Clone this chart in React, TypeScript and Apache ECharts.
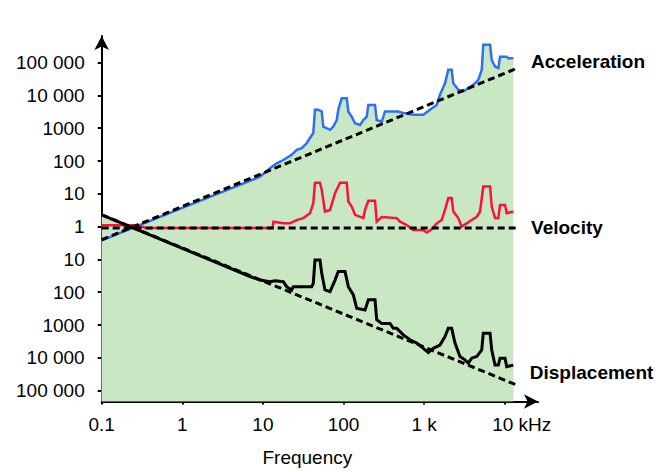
import React, { useEffect, useRef } from 'react';
import * as echarts from 'echarts';

// x = log10(frequency in Hz), y = log10(level) (below 1 the axis shows the reciprocal)
const xTickValues = [-1, 0, 1, 2, 3, 4];
const xTickLabels = ['0.1', '1', '10', '100', '1 k', '10 kHz'];
const yTickValues = [5, 4, 3, 2, 1, 0, -1, -2, -3, -4, -5];
const yTickLabels = ['100 000', '10 000', '1000', '100', '10', '1', '10', '100', '1000', '10 000', '100 000'];
const curveNames = ['Acceleration', 'Velocity', 'Displacement'];

const accelerationRef: number[][] = [[-1, -0.4], [4.165, 4.84]];
const velocityRef: number[][] = [[-1, -0.04], [4.165, -0.04]];
const displacementRef: number[][] = [[-1, 0.36], [4.15, -4.83]];

const acceleration: number[][] = [
  [-1, -0.42], [0, 0.57], [0.964, 1.52], [1.088, 1.78], [1.171, 1.93], [1.253, 2.03],
  [1.357, 2.19], [1.419, 2.34], [1.481, 2.39], [1.543, 2.54], [1.584, 2.7], [1.625, 2.85],
  [1.646, 3.56], [1.687, 3.56], [1.73, 3.51], [1.749, 3.05], [1.833, 2.95], [1.873, 3.05],
  [1.916, 3.25], [1.935, 3.56], [1.978, 3.91], [2.04, 3.91], [2.06, 3.51], [2.102, 3.35],
  [2.143, 3.15], [2.205, 3.1], [2.246, 3.25], [2.288, 3.35], [2.308, 3.71], [2.391, 3.71],
  [2.412, 3.25], [2.474, 3.2], [2.515, 3.51], [2.68, 3.51], [2.742, 3.46], [2.866, 3.41],
  [2.99, 3.41], [3.073, 3.56], [3.156, 3.71], [3.197, 4.02], [3.259, 4.37], [3.3, 4.78],
  [3.342, 4.78], [3.362, 4.37], [3.424, 4.17], [3.486, 4.12], [3.548, 4.22], [3.61, 4.32],
  [3.672, 4.47], [3.715, 4.78], [3.734, 5.54], [3.818, 5.54], [3.839, 5.08], [3.88, 4.88],
  [3.921, 4.83], [3.942, 5.18], [4.025, 5.18], [4.045, 5.13], [4.107, 5.13],
];

const velocity: number[][] = [
  [-1, 0.04], [-0.55, 0.04], [-0.45, -0.04], [1.12, -0.04], [1.13, 0.15], [1.253, 0.1], [1.336, 0.1],
  [1.419, 0.2], [1.501, 0.26], [1.584, 0.41], [1.625, 0.71], [1.646, 1.34], [1.708, 1.34],
  [1.73, 1.12], [1.77, 0.46], [1.833, 0.51], [1.895, 1.02], [1.957, 1.34], [2.04, 1.34],
  [2.06, 0.76], [2.102, 0.61], [2.143, 0.36], [2.246, 0.26], [2.267, 0.51], [2.308, 0.79],
  [2.391, 0.79], [2.412, 0.15], [2.474, 0.29], [2.66, 0.26], [2.701, 0.15], [2.784, 0.05],
  [2.866, -0.1], [2.99, -0.1], [3.032, -0.18], [3.094, -0.08], [3.156, 0.1], [3.218, 0.2],
  [3.259, 0.51], [3.3, 0.87], [3.342, 0.87], [3.362, 0.46], [3.424, 0.26], [3.466, 0.0],
  [3.528, 0.1], [3.59, 0.2], [3.653, 0.3], [3.694, 0.46], [3.734, 1.22], [3.818, 1.22],
  [3.839, 0.61], [3.88, 0.26], [3.921, 0.26], [3.942, 0.66], [4.004, 0.66], [4.025, 0.41],
  [4.107, 0.46],
];

const displacement: number[][] = [
  [-1, 0.36], [0.84, -1.52], [0.964, -1.63], [1.088, -1.68], [1.15, -1.65], [1.253, -1.68],
  [1.295, -1.83], [1.357, -1.93], [1.377, -1.83], [1.605, -1.83], [1.625, -1.73], [1.646, -1.02],
  [1.708, -1.02], [1.73, -1.42], [1.77, -1.93], [1.833, -1.98], [1.895, -1.63], [1.935, -1.37],
  [2.019, -1.37], [2.06, -1.83], [2.122, -2.08], [2.164, -2.49], [2.267, -2.54], [2.308, -2.23],
  [2.391, -2.23], [2.412, -2.84], [2.474, -2.95], [2.577, -2.95], [2.618, -3.1], [2.66, -3.1],
  [2.742, -3.3], [2.825, -3.45], [2.908, -3.55], [2.99, -3.71], [3.052, -3.84], [3.114, -3.71],
  [3.197, -3.61], [3.259, -3.35], [3.3, -3.1], [3.342, -3.1], [3.383, -3.55], [3.445, -3.96],
  [3.507, -4.06], [3.548, -4.16], [3.59, -4.01], [3.653, -3.96], [3.715, -3.76], [3.734, -3.25],
  [3.818, -3.25], [3.839, -3.76], [3.88, -4.22], [3.921, -4.22], [3.942, -4.01], [4.004, -4.01],
  [4.025, -4.27], [4.107, -4.22],
];

const FONT = '"Liberation Sans", Arial, sans-serif';
const GREEN = '#c9e7c2';
const BLUE = '#2f6ff2';
const RED = '#ff1038';

export default function App() {
  const ref = useRef<HTMLDivElement>(null);
  useEffect(() => {
    if (!ref.current) return;
    const chart = echarts.init(ref.current, undefined, { renderer: 'svg' });
    const areaSeries = (data: number[][]) => ({
      type: 'line',
      data,
      symbol: 'none',
      showSymbol: false,
      silent: true,
      z: 1,
      lineStyle: { width: 0 },
      areaStyle: { color: GREEN, opacity: 1, origin: 'start' },
    });
    const solid = (data: number[][], color: string, width: number) => ({
      type: 'line',
      data,
      symbol: 'none',
      showSymbol: false,
      silent: true,
      z: 2,
      lineStyle: { color, width, join: 'miter' },
    });
    const dashed = (data: number[][], name: string, offsetY: number) => ({
      type: 'line',
      data,
      symbol: 'none',
      showSymbol: false,
      silent: true,
      z: 3,
      lineStyle: { color: '#000', width: 3, type: [7, 4] },
      endLabel: {
        show: true,
        formatter: name,
        distance: 13,
        offset: [0, offsetY],
        fontSize: 19,
        fontWeight: 'bold',
        fontFamily: FONT,
        color: '#000',
      },
    });
    chart.setOption({
      animation: false,
      backgroundColor: '#fff',
      grid: { left: 101.7, right: 128, top: 36, bottom: 70.5, containLabel: false },
      xAxis: {
        type: 'value',
        min: -1,
        max: 4.413,
        splitLine: { show: false },
        axisLine: {
          show: true,
          onZero: false,
          symbol: ['none', 'arrow'],
          symbolSize: [11, 14],
          lineStyle: { color: '#000', width: 2 },
        },
        axisTick: {
          show: true,
          length: 3,
          customValues: xTickValues,
          lineStyle: { color: '#000', width: 2 },
        },
        axisLabel: {
          customValues: xTickValues,
          margin: 13,
          fontSize: 19,
          fontFamily: FONT,
          color: '#000',
          formatter: (v: number) => {
            const i = xTickValues.findIndex((t) => Math.abs(t - v) < 1e-6);
            if (i < 0) return '';
            if (i === xTickValues.length - 1) return '{k|' + xTickLabels[i] + '}';
            return xTickLabels[i];
          },
          rich: {
            k: { padding: [0, 0, 0, 34], fontSize: 19, fontFamily: FONT, color: '#000' },
          },
        },
        name: 'Frequency',
        nameLocation: 'middle',
        nameGap: 46,
        nameTextStyle: { fontSize: 19, fontFamily: FONT, color: '#000', padding: [0, 25, 0, 0] },
      },
      yAxis: {
        type: 'value',
        min: -5.33,
        max: 5.81,
        splitLine: { show: false },
        axisLine: {
          show: true,
          onZero: false,
          symbol: ['none', 'arrow'],
          symbolSize: [11, 14],
          lineStyle: { color: '#000', width: 2 },
        },
        axisTick: {
          show: true,
          length: 4,
          customValues: yTickValues,
          lineStyle: { color: '#000', width: 2 },
        },
        axisLabel: {
          customValues: yTickValues,
          margin: 17,
          fontSize: 19,
          fontFamily: FONT,
          color: '#000',
          formatter: (v: number) => {
            const i = yTickValues.findIndex((t) => Math.abs(t - v) < 1e-6);
            return i < 0 ? '' : yTickLabels[i];
          },
        },
      },
      series: [
        areaSeries(acceleration),
        areaSeries(displacement),
        solid(acceleration, BLUE, 2.5),
        solid(velocity, RED, 2.5),
        solid(displacement, '#000', 3),
        dashed(accelerationRef, curveNames[0], -6),
        dashed(velocityRef, curveNames[1], 0),
        dashed(displacementRef, curveNames[2], -13),
      ],
    });
    return () => chart.dispose();
  }, []);
  return (
    <div
      ref={ref}
      style={{ position: 'fixed', left: 0, top: 0, width: 666, height: 472, background: '#fff' }}
    />
  );
}
